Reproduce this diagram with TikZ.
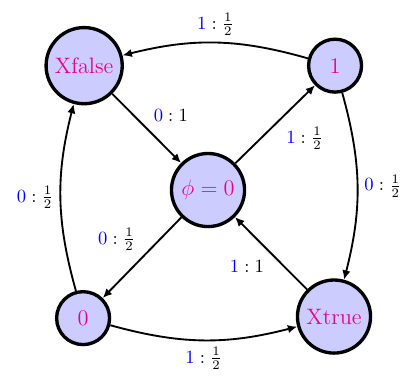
\documentclass[tikz,border=0pt]{standalone}
\usetikzlibrary{arrows.meta, positioning}
\definecolor{cblue}{HTML}{0000FF}
\definecolor{cpink}{HTML}{EC008C}
\definecolor{cfill}{HTML}{CCCCFF}
\newcommand{\lab}[2]{$\textcolor{cblue}{#1}:#2$}
\tikzset{
  st/.style={circle, draw=black, fill=cfill, line width=1.8pt, minimum size=1cm, font=\large, text=cpink},
  arrow/.style={-{Latex[length=5pt, width=4.5pt]}, draw=black, line width=1pt},
  curved/.style={arrow, bend angle=15},
}

\begin{document}
\begin{tikzpicture}
  \useasboundingbox (-3.93,-3.50) rectangle (3.74,3.59);
  % states
  \node[st] (phi) at (0,0) {$\phi=0$};
  \node[st] (xf) at (-2.34,2.35) {Xfalse};
  \node[st] (one) at (2.40,2.35) {1};
  \node[st] (zero) at (-2.36,-2.42) {0};
  \node[st] (xt) at (2.38,-2.39) {Xtrue};
  % straight transitions
  \draw[arrow] (xf) -- node[above right] {\lab{0}{1}} (phi);
  \draw[arrow] (phi) -- node[below right, pos=0.55] {\lab{1}{\frac12}} (one);
  \draw[arrow] (xt) -- node[below left] {\lab{1}{1}} (phi);
  \draw[arrow] (phi) -- node[above left] {\lab{0}{\frac12}} (zero);
  % round the outside
  \draw[curved] (one) to[bend right] node[above] {\lab{1}{\frac12}} (xf);
  \draw[curved] (one) to[bend left] node[right] {\lab{0}{\frac12}} (xt);
  \draw[curved] (zero) to[bend right] node[below] {\lab{1}{\frac12}} (xt);
  \draw[curved] (zero) to[bend left] node[left] {\lab{0}{\frac12}} (xf);
\end{tikzpicture}
\end{document}
